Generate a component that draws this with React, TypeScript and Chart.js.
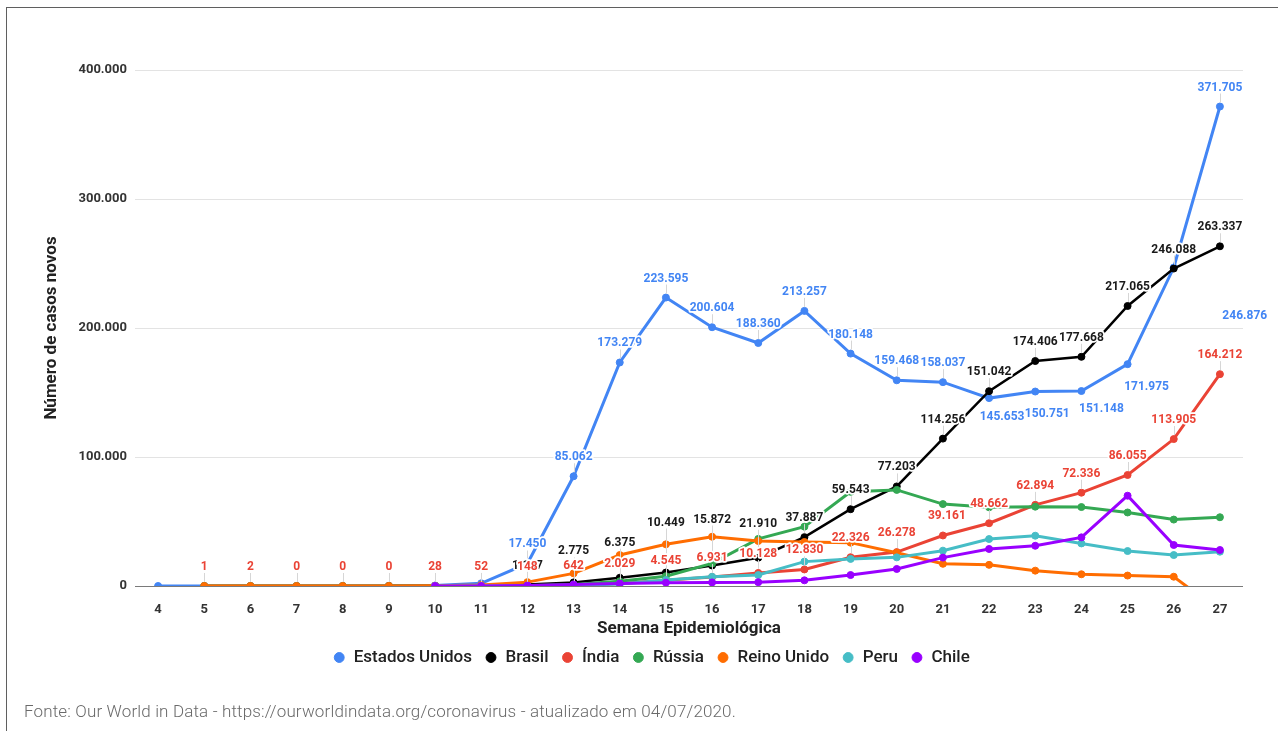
import React, { useEffect, useRef } from 'react';
import { Chart, registerables } from 'chart.js';

Chart.register(...registerables);

// ---------- DATA ----------
const WEEKS = ['4', '5', '6', '7', '8', '9', '10', '11', '12', '13', '14', '15', '16', '17', '18', '19', '20', '21', '22', '23', '24', '25', '26', '27'];

const US = [1, 5, 6, 1, 3, 40, 420, 2100, 17450, 85062, 173279, 223595, 200604, 188360, 213257, 180148, 159468, 158037, 145653, 150751, 151148, 171975, 246876, 371705];
const BRASIL = [null, null, null, null, null, 1, 19, 101, 1147, 2775, 6375, 10449, 15872, 21910, 37887, 59543, 77203, 114256, 151042, 174406, 177668, 217065, 246088, 263337];
const INDIA = [null, 1, 2, 0, 0, 0, 28, 52, 148, 642, 2029, 4545, 6931, 10128, 12830, 22326, 26278, 39161, 48662, 62894, 72336, 86055, 113905, 164212];
const RUSSIA = [null, 2, 0, 0, 0, 0, 18, 43, 245, 1130, 3600, 7600, 17500, 36500, 46000, 73000, 74500, 63500, 61000, 61500, 61200, 57000, 51500, 53300];
const REINO_UNIDO = [null, 2, 7, 0, 4, 22, 200, 800, 3000, 9800, 24000, 32300, 38200, 34900, 34100, 33600, 25800, 17200, 16400, 11900, 9100, 8100, 7200, -19500];
const PERU = [null, null, null, null, null, null, 6, 37, 320, 560, 1500, 4600, 7200, 8500, 18900, 21000, 22200, 27400, 36400, 39000, 33000, 27100, 24000, 26600];
const CHILE = [null, null, null, null, null, null, 7, 68, 400, 1250, 2000, 2600, 2800, 3000, 4400, 8500, 13200, 22000, 28700, 31200, 37700, 70000, 31800, 27900];

const Y_TICKS = [0, 100000, 200000, 300000, 400000];

// weeks whose values are annotated, per series
const US_LABEL_WEEKS = ['12', '13', '14', '15', '16', '17', '18', '19', '20', '21', '22', '23', '24', '25', '26', '27'];
const BR_LABEL_WEEKS = ['12', '13', '14', '15', '16', '17', '18', '19', '20', '21', '22', '23', '24', '25', '26', '27'];
const IN_LABEL_WEEKS = ['5', '6', '7', '8', '9', '10', '11', '12', '13', '14', '15', '16', '17', '18', '19', '20', '21', '22', '23', '24', '25', '26', '27'];

// ---------- STYLE / LAYOUT ----------
const SERIES = [
  { label: 'Estados Unidos', data: US, color: '#4285F4', width: 3 },
  { label: 'Brasil', data: BRASIL, color: '#000000', width: 2.5 },
  { label: 'Índia', data: INDIA, color: '#EA4335', width: 3 },
  { label: 'Rússia', data: RUSSIA, color: '#34A853', width: 3 },
  { label: 'Reino Unido', data: REINO_UNIDO, color: '#FF6D01', width: 3 },
  { label: 'Peru', data: PERU, color: '#46BDC6', width: 3 },
  { label: 'Chile', data: CHILE, color: '#9900FF', width: 3 },
];

const LABEL_SETS: { ds: number; key: string; weeks: string[]; color: string }[] = [
  { ds: 0, key: 'US', weeks: US_LABEL_WEEKS, color: '#4285F4' },
  { ds: 1, key: 'BR', weeks: BR_LABEL_WEEKS, color: '#1a1a1a' },
  { ds: 2, key: 'IN', weeks: IN_LABEL_WEEKS, color: '#EA4335' },
];

// label placement relative to its point [dx, dy]; default above
const LABEL_DEFAULT: [number, number] = [0, -19];
const LABEL_NUDGE: Record<string, [number, number]> = {
  'US-22': [13, 19],
  'US-23': [12, 22],
  'US-24': [20, 18],
  'US-25': [19, 23],
  'US-26': [71, 48],
  'BR-13': [0, -31],
  'BR-14': [0, -35],
  'BR-15': [0, -50],
  'BR-16': [0, -46],
  'BR-17': [0, -34],
  'IN-21': [4, -19],
};

const fmt = (v: number) => String(v).replace(/\B(?=(\d{3})+(?!\d))/g, '.');

const valueLabels = {
  id: 'valueLabels',
  afterDatasetsDraw(chart: any) {
    const ctx = chart.ctx as CanvasRenderingContext2D;
    const items: any[] = [];
    LABEL_SETS.forEach((set) => {
      const meta = chart.getDatasetMeta(set.ds);
      const data = chart.data.datasets[set.ds].data;
      set.weeks.forEach((w) => {
        const idx = WEEKS.indexOf(w);
        const pt = meta.data[idx];
        const v = data[idx];
        if (!pt || v == null) return;
        const [dx, dy] = LABEL_NUDGE[set.key + '-' + w] ?? LABEL_DEFAULT;
        items.push({ x: pt.x + dx, y: pt.y + dy, px: pt.x, py: pt.y, dx, dy, text: fmt(v), color: set.color });
      });
    });
    ctx.save();
    ctx.strokeStyle = '#d6d6d6';
    ctx.lineWidth = 1;
    items.forEach((it) => {
      if (it.dx === 0 && it.dy < 0) {
        const x = Math.round(it.px) + 0.5;
        ctx.beginPath();
        ctx.moveTo(x, it.py - 4);
        ctx.lineTo(x, it.y + 6);
        ctx.stroke();
      }
    });
    ctx.font = 'bold 12px Roboto';
    ctx.textAlign = 'center';
    ctx.textBaseline = 'middle';
    ctx.lineJoin = 'round';
    items.forEach((it) => {
      ctx.lineWidth = 3.5;
      ctx.strokeStyle = '#ffffff';
      ctx.strokeText(it.text, it.x, it.y);
      ctx.fillStyle = it.color;
      ctx.fillText(it.text, it.x, it.y);
    });
    ctx.restore();
  },
};

const legendShift = {
  id: 'legendShift',
  afterLayout(chart: any) {
    const lg = chart.legend;
    if (lg) {
      lg.left += 30;
      lg.right += 30;
    }
  },
};

export default function App() {
  const ref = useRef<HTMLCanvasElement>(null);

  useEffect(() => {
    if (!ref.current) return;
    const chart = new Chart(ref.current, {
      type: 'line',
      data: {
        labels: WEEKS,
        datasets: SERIES.map((s, i) => ({
          label: s.label,
          data: s.data as any,
          borderColor: s.color,
          backgroundColor: s.color,
          borderWidth: s.width,
          pointRadius: 3.5,
          pointBorderWidth: 1,
          pointBorderColor: s.color,
          pointBackgroundColor: s.color,
          pointStyle: 'circle',
          tension: 0,
          clip: 0,
          order: SERIES.length - i,
        })),
      },
      options: {
        responsive: false,
        animation: false,
        layout: { padding: { top: 70, right: 35, bottom: 4, left: 0 } },
        plugins: {
          tooltip: { enabled: false },
          legend: {
            position: 'bottom',
            labels: {
              usePointStyle: true,
              pointStyle: 'circle',
              boxWidth: 12,
              boxHeight: 7,
              padding: 13,
              color: '#222',
              sort: (a: any, b: any) => a.datasetIndex - b.datasetIndex,
              font: { family: 'Roboto', size: 17, weight: '500' as any },
            },
          },
        },
        scales: {
          x: {
            type: 'category',
            offset: true,
            grid: { display: false },
            border: { display: false },
            ticks: {
              autoSkip: false,
              maxRotation: 0,
              padding: 8,
              color: '#333',
              font: { family: 'Roboto', size: 13, weight: 'bold' },
            },
            title: {
              display: true,
              text: 'Semana Epidemiológica',
              color: '#222',
              padding: { top: 0, bottom: 0 },
              font: { family: 'Roboto', size: 17, weight: 'bold', lineHeight: 0.82 },
            },
            afterFit: (scale: any) => {
              scale.height = 50;
            },
          },
          y: {
            min: 0,
            max: 400000,
            afterBuildTicks: (scale: any) => {
              scale.ticks = Y_TICKS.map((v) => ({ value: v }));
            },
            grid: {
              drawTicks: false,
              color: (c: any) => (c.tick && c.tick.value === 0 ? '#7a7a7a' : '#e3e3e3'),
              lineWidth: 1,
            },
            border: { display: false },
            ticks: {
              padding: 8,
              color: '#333',
              font: { family: 'Roboto', size: 13, weight: 'bold' },
              callback: (v: any) => fmt(Number(v)),
            },
            title: {
              display: true,
              text: 'Número de casos novos',
              color: '#222',
              padding: { top: 42, bottom: 0 },
              font: { family: 'Roboto', size: 17, weight: 'bold', lineHeight: 1.1 },
            },
            afterFit: (scale: any) => {
              scale.width = 135;
            },
          },
        },
      },
      plugins: [valueLabels, legendShift],
    });
    return () => chart.destroy();
  }, []);

  return (
    <>
      <div
        style={{
          position: 'fixed',
          left: 6,
          top: 7,
          right: 0,
          bottom: 0,
          borderLeft: '1px solid #5f5f5f',
          borderTop: '1px solid #5f5f5f',
        }}
      />
      <canvas
        ref={ref}
        width={1278}
        height={680}
        style={{ position: 'fixed', left: 0, top: 0, width: 1278, height: 680, display: 'block' }}
      />
      <div
        style={{
          position: 'fixed',
          left: 24,
          top: 701,
          fontFamily: 'Roboto',
          fontWeight: 300,
          fontSize: 17,
          letterSpacing: '0.15px',
          lineHeight: '20px',
          color: '#6a6a6a',
          whiteSpace: 'nowrap',
        }}
      >
        Fonte: Our World in Data - https://ourworldindata.org/coronavirus - atualizado em 04/07/2020.
      </div>
    </>
  );
}
